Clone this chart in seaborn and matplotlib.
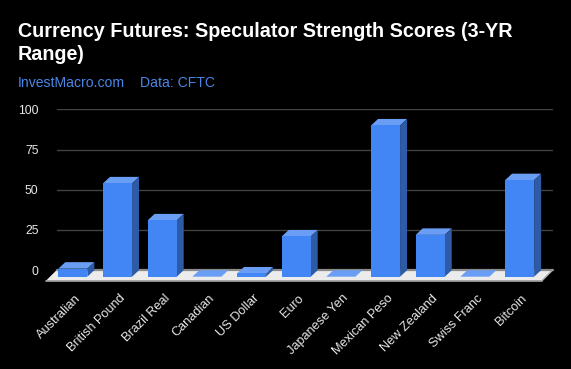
import numpy as np
import pandas as pd
import matplotlib
matplotlib.use("Agg")
import matplotlib.pyplot as plt
import matplotlib.transforms as mtrans
from matplotlib.patches import Polygon
import seaborn as sns

# ---- data ----
categories = ["Australian", "British Pound", "Brazil Real", "Canadian", "US Dollar",
              "Euro", "Japanese Yen", "Mexican Peso", "New Zealand", "Swiss Franc", "Bitcoin"]
scores = [5, 58, 35, 0, 2, 25, 0, 94, 26, 0, 60]
y_ticks = [0, 25, 50, 75, 100]
title_lines = ["Currency Futures: Speculator Strength Scores (3-YR", "Range)"]
subtitle_site = "InvestMacro.com"
subtitle_src = "Data: CFTC"

# ---- style ----
sns.set_style("dark")
plt.rcParams["font.family"] = ["Liberation Sans", "DejaVu Sans"]

FRONT = "#4285F4"
TOP = "#6A9EF4"
SIDE = "#2E5BA6"
W, H, DPI = 571, 369, 100

fig = plt.figure(figsize=(W / DPI, H / DPI), dpi=DPI, facecolor="black")
left_px, right_px, top_px, zero_px = 56.5, 552.5, 109.3, 270.2
ax = fig.add_axes([left_px / W, (H - zero_px) / H, (right_px - left_px) / W, (zero_px - top_px) / H])
ax.set_facecolor("black")

df = pd.DataFrame({"Currency": categories, "Score": scores})
sns.barplot(data=df, x="Currency", y="Score", color=FRONT, saturation=1,
            width=0.65, ax=ax, zorder=4, linewidth=0)

ax.set_xlim(-0.522, 10.58)
ax.set_ylim(0, 100)
for s in ax.spines.values():
    s.set_visible(False)
ax.set_xlabel("")
ax.set_ylabel("")
ax.set_yticks(y_ticks)
ax.set_yticklabels([str(t) for t in y_ticks])
ax.tick_params(axis="y", length=0, pad=13, labelsize=8.7, labelcolor="#e8e8e8")
ax.set_xticks(range(len(categories)))
ax.set_xticklabels([])
ax.tick_params(axis="x", length=0)
ax.grid(False)
for t in y_ticks[1:]:
    ax.axhline(t, color="#424242", linewidth=1, zorder=0.5)

fig.canvas.draw()

# 3D offsets in pixels
bdx, bdy = 7.0, 6.5     # bar depth
fdx, fdy = 10.5, 10.5   # floor depth
to_disp = ax.transData.transform
ident = mtrans.IdentityTransform()
bar_off = mtrans.ScaledTranslation(-bdx / DPI, -bdy / DPI, fig.dpi_scale_trans)

# floor
(xl, y0), (xr, _) = to_disp([(ax.get_xlim()[0], 0), (ax.get_xlim()[1], 0)])
floor = Polygon([(xl, y0), (xr, y0), (xr - fdx, y0 - fdy), (xl - fdx, y0 - fdy)],
                closed=True, transform=ident, facecolor="#ececec", edgecolor="none",
                zorder=1, clip_on=False)
fig.add_artist(floor)
fig.add_artist(plt.Line2D([xl, xr], [y0, y0], transform=ident, color="#8a8a8a", lw=1.6, zorder=1.2))
fig.add_artist(plt.Line2D([xl - fdx, xr - fdx], [y0 - fdy, y0 - fdy], transform=ident,
                          color="#a8a8a8", lw=1.2, zorder=1.2))
fig.add_artist(plt.Line2D([xr, xr - fdx], [y0, y0 - fdy], transform=ident,
                          color="#a8a8a8", lw=1.0, zorder=1.2))

for p in ax.patches:
    x0, w, h = p.get_x(), p.get_width(), p.get_height()
    (bx0, by0), (bx1, by1) = to_disp([(x0, 0), (x0 + w, h)])
    p.set_transform(ax.transData + bar_off)
    p.set_clip_on(False)
    top = Polygon([(bx0, by1), (bx1, by1), (bx1 - bdx, by1 - bdy), (bx0 - bdx, by1 - bdy)],
                  closed=True, transform=ident, facecolor=TOP, edgecolor="none", zorder=3)
    fig.add_artist(top)
    if h > 0:
        side = Polygon([(bx1, by1), (bx1, by0), (bx1 - bdx, by0 - bdy), (bx1 - bdx, by1 - bdy)],
                       closed=True, transform=ident, facecolor=SIDE, edgecolor="none", zorder=3)
        fig.add_artist(side)
for p in ax.patches:
    p.remove()
    fig.add_artist(p)
    p.set_zorder(4)

# x labels
lab_off = mtrans.ScaledTranslation(3 / DPI, -22 / DPI, fig.dpi_scale_trans)
for i, name in enumerate(categories):
    ax.text(i, 0, name, transform=ax.get_xaxis_transform() + lab_off, rotation=45,
            ha="right", va="top", fontsize=9.2, color="#e8e8e8", clip_on=False)

# titles
fig.text(18 / W, 1 - 36.7 / H, title_lines[0], fontsize=14.25, fontweight="bold", color="white",
         ha="left", va="baseline")
fig.text(18 / W, 1 - 60 / H, title_lines[1], fontsize=14.25, fontweight="bold", color="white",
         ha="left", va="baseline")
fig.text(18 / W, 1 - 86.7 / H, subtitle_site, fontsize=10.1, color="#4A86E8", ha="left", va="baseline")
fig.text(140.5 / W, 1 - 86.7 / H, subtitle_src, fontsize=10.1, color="#4A86E8", ha="left", va="baseline")

fig.savefig("out.png", dpi=DPI, facecolor="black")
